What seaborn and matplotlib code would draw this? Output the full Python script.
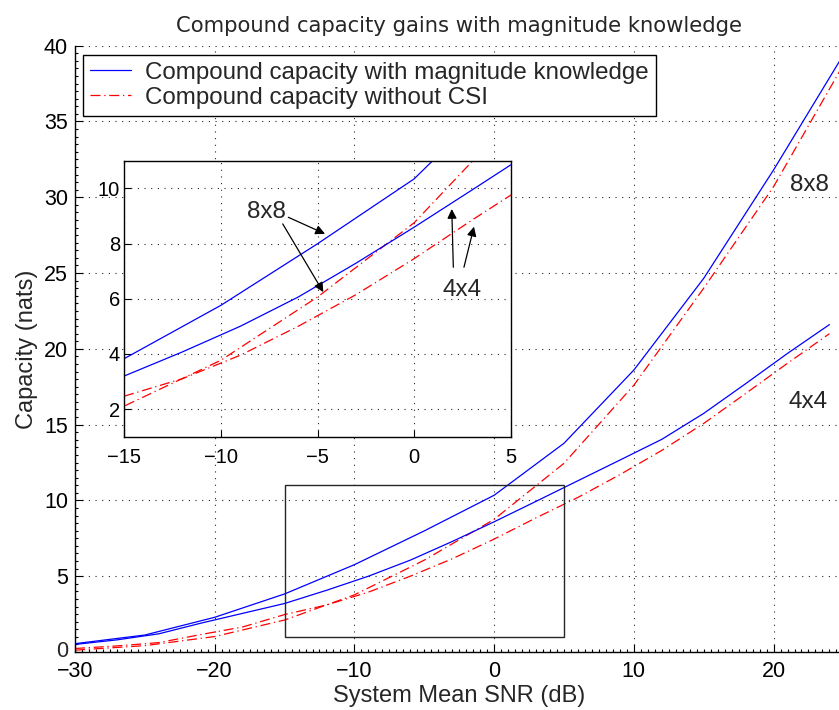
import matplotlib
matplotlib.use("Agg")
import matplotlib.pyplot as plt
from matplotlib.ticker import MultipleLocator
from matplotlib.patches import Rectangle
import seaborn as sns

# SNR grids (dB)
snr_8x8 = [-30, -25, -20, -15, -10, -5, 0, 5, 10, 15, 20, 25]
snr_4x4 = [-30, -27, -24, -21, -18, -15, -12, -9, -6, -3, 0, 3, 6, 9, 12, 15, 18, 21, 24]

# Compound capacity (nats), 8x8 system
cap_8x8_mag = [0.55, 1.12, 2.29, 3.83, 5.76, 7.99, 10.34, 13.77, 18.6, 24.65, 31.8, 39.4]
cap_8x8_nocsi = [0.12, 0.42, 1.02, 2.11, 3.77, 6.06, 8.75, 12.45, 17.6, 24.0, 30.7, 38.75]

# Compound capacity (nats), 4x4 system
cap_4x4_mag = [0.5, 0.8, 1.2, 1.9, 2.55, 3.2, 4.07, 5.0, 6.06, 7.29, 8.59, 9.94,
               11.3, 12.66, 14.03, 15.74, 17.7, 19.7, 21.6]
cap_4x4_nocsi = [0.23, 0.4, 0.62, 1.15, 1.65, 2.47, 3.1, 3.95, 5.0, 6.15, 7.45, 8.85,
                 10.2, 11.7, 13.3, 15.08, 17.05, 19.05, 21.0]

capacity_ticks = [0, 5, 10, 15, 20, 25, 30, 35, 40]
legend_labels = ["Compound capacity with magnitude knowledge",
                 "Compound capacity without CSI"]

sns.set_style("ticks")
plt.rcParams["font.family"] = ["Liberation Sans", "DejaVu Sans"]

BLUE = (0, 0, 1)
RED = (1, 0, 0)
DASHDOT = (0, (8, 3, 1, 3))
GRID_KW = dict(color="0.15", linestyle=(0, (1, 5)), linewidth=0.8)

fig = plt.figure(figsize=(8.39, 7.10), dpi=100)
W, H = 839, 710


def px_axes(left, top, right, bottom):
    return fig.add_axes([left / W, 1 - bottom / H, (right - left) / W, (bottom - top) / H])


def draw_curves(ax):
    sns.lineplot(x=snr_8x8, y=cap_8x8_mag, ax=ax, color=BLUE, linewidth=0.9,
                 estimator=None, sort=False, label=legend_labels[0])
    sns.lineplot(x=snr_8x8, y=cap_8x8_nocsi, ax=ax, color=RED, linewidth=0.9,
                 linestyle=DASHDOT, estimator=None, sort=False, label=legend_labels[1])
    sns.lineplot(x=snr_4x4, y=cap_4x4_mag, ax=ax, color=BLUE, linewidth=0.9,
                 estimator=None, sort=False)
    sns.lineplot(x=snr_4x4, y=cap_4x4_nocsi, ax=ax, color=RED, linewidth=0.9,
                 linestyle=DASHDOT, estimator=None, sort=False)


# ---- main axes ----
ax = px_axes(75, 45.7, 843.4, 652)
draw_curves(ax)
ax.set_xlim(-30, 25)
ax.set_ylim(0, 40)
ax.xaxis.set_major_locator(MultipleLocator(10))
ax.set_yticks(capacity_ticks)
ax.xaxis.set_minor_locator(MultipleLocator(0.5))
ax.yaxis.set_minor_locator(MultipleLocator(0.5))
ax.grid(True, which="major", **GRID_KW)
ax.tick_params(which="both", direction="in", colors="k", width=0.8)
ax.tick_params(which="major", length=6)
ax.tick_params(which="minor", length=2.5)
ax.tick_params(axis="x", labelsize=15.5, pad=6.3)
ax.tick_params(axis="y", labelsize=15.5, pad=5)
ax.set_xticklabels([f"{int(v)}".replace("-", "\u2212") for v in ax.get_xticks()])
# the bottom "0" label is placed by hand, slightly raised, to clear the SNR labels
ax.set_yticklabels([""] + [str(v) for v in capacity_ticks[1:]])
ax.text(-7 / 768.4, 0.23, str(capacity_ticks[0]), transform=ax.get_yaxis_transform(),
        fontsize=15.5, ha="right", va="center_baseline")
for s in ("top", "right"):
    ax.spines[s].set_visible(False)
for s in ("left", "bottom"):
    ax.spines[s].set_color("k")
    ax.spines[s].set_linewidth(1.0)
ax.set_xlabel("System Mean SNR (dB)", fontsize=17, labelpad=2)
ax.set_ylabel("Capacity (nats)", fontsize=17, labelpad=4)
ax.set_title("Compound capacity gains with magnitude knowledge",
             fontsize=15.2, family="DejaVu Sans", pad=10)

# zoom region marker
ax.add_patch(Rectangle((-15, 1), 20, 10, fill=False, edgecolor="0.15", linewidth=1.0, zorder=3))

ax.text(22.6, 30.8, "8x8", fontsize=17.5, ha="center", va="center")
ax.text(22.45, 16.5, "4x4", fontsize=17.5, ha="center", va="center")

leg = ax.legend(loc="upper left", bbox_to_anchor=(8 / 768.4, 1 - 9 / 606.3),
                fontsize=17.4, frameon=True, fancybox=False, framealpha=1,
                edgecolor="k", borderpad=0.3, labelspacing=0.12,
                handlelength=1.7, handletextpad=0.55, borderaxespad=0)
leg.get_frame().set_linewidth(1.0)

# ---- inset axes ----
axi = px_axes(124.3, 160.7, 510.7, 436.7)
axi.set_facecolor("white")
draw_curves(axi)
if axi.get_legend():
    axi.get_legend().remove()
axi.set_xlim(-15, 5)
axi.set_ylim(1, 11)
axi.xaxis.set_major_locator(MultipleLocator(5))
axi.yaxis.set_major_locator(MultipleLocator(2))
axi.grid(True, which="major", **GRID_KW)
axi.tick_params(direction="in", length=5, width=0.8, colors="k")
axi.tick_params(axis="x", labelsize=14.5, pad=8)
axi.tick_params(axis="y", labelsize=14.5, pad=3)
axi.set_xticklabels([f"{int(v)}".replace("-", "\u2212") for v in axi.get_xticks()])
axi.set_yticks([2, 4, 6, 8, 10])
for s in axi.spines.values():
    s.set_color("k")
    s.set_linewidth(1.0)
axi.set_xlabel("")
axi.set_ylabel("")

arrow_kw = dict(arrowstyle="-|>", color="k", lw=0.9, mutation_scale=14, shrinkA=0, shrinkB=0)
axi.text(-7.66, 9.13, "8x8", fontsize=17.5, ha="center", va="center")
axi.annotate("", xy=(-4.61, 8.35), xytext=(-6.51, 8.95), arrowprops=arrow_kw)
axi.annotate("", xy=(-4.7, 6.24), xytext=(-6.8, 8.71), arrowprops=arrow_kw)
axi.text(2.5, 6.33, "4x4", fontsize=17.5, ha="center", va="center")
axi.annotate("", xy=(1.95, 9.25), xytext=(2.03, 7.14), arrowprops=arrow_kw)
axi.annotate("", xy=(3.1, 8.61), xytext=(2.58, 7.14), arrowprops=arrow_kw)

fig.savefig("out.png", dpi=100)
